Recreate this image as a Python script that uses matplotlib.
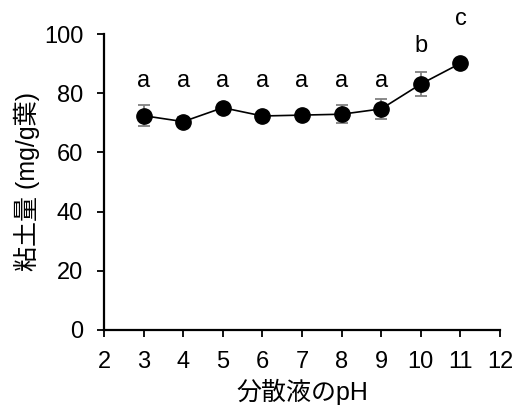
import matplotlib
matplotlib.use("Agg")
from matplotlib import pyplot as plt

plt.rcParams['font.family'] = ['Liberation Sans', 'Noto Sans CJK JP', 'DejaVu Sans']

ph = [3, 4, 5, 6, 7, 8, 9, 10, 11]
clay = [72.4, 70.4, 75.1, 72.3, 72.6, 72.9, 74.7, 83.1, 90.1]
err = [3.6, 1.5, 1.0, 1.0, 1.5, 3.0, 3.4, 4.0, 1.0]
letters = ['a', 'a', 'a', 'a', 'a', 'a', 'a', 'b', 'c']
letter_y = [84, 84, 84, 84, 84, 84, 84, 96, 105]

fig = plt.figure(figsize=(5.15, 4.15), dpi=100)
ax = fig.add_axes([0.202, 0.205, 0.769, 0.713])

ax.errorbar(ph, clay, yerr=err, fmt='none', ecolor='#808080', elinewidth=1.3,
            capsize=4, capthick=1.3, zorder=2)
ax.plot(ph, clay, color='black', lw=1.2, marker='o', markersize=11, zorder=3)

for x, y, s in zip(ph, letter_y, letters):
    ax.text(x, y, s, ha='center', va='center', fontsize=17, clip_on=False)

ax.set_xlim(2, 12)
ax.set_ylim(0, 100)
ax.set_xticks(range(2, 13))
ax.set_yticks(range(0, 101, 20))
ax.tick_params(labelsize=17, width=1.3, length=5, direction='out', pad=10)
for side in ['top', 'right']:
    ax.spines[side].set_visible(False)
for side in ['left', 'bottom']:
    ax.spines[side].set_linewidth(1.6)

ax.set_xlabel('分散液のpH', fontsize=18, labelpad=4)
ax.set_ylabel('粘土量 (mg/g葉)', fontsize=18, labelpad=3)

fig.savefig('out.png', dpi=100)
